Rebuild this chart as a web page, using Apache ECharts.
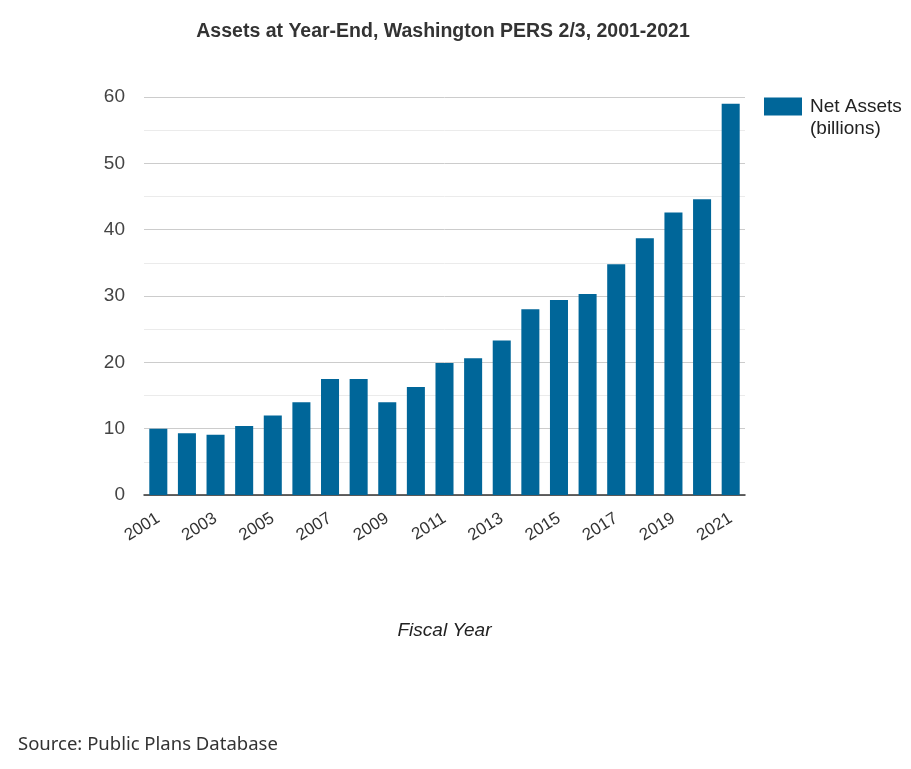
<!DOCTYPE html>
<html>
<head>
<meta charset="utf-8">
<script src="https://cdn.jsdelivr.net/npm/echarts@6/dist/echarts.min.js"></script>
<style>
html,body{margin:0;padding:0;background:#fff;}
#chart{width:911px;height:769px;}
</style>
</head>
<body>
<div id="chart"></div>
<script>
const years = ['2001','2002','2003','2004','2005','2006','2007','2008','2009','2010','2011','2012','2013','2014','2015','2016','2017','2018','2019','2020','2021'];
const netAssets = [10.0, 9.3, 9.1, 10.4, 12.0, 14.0, 17.5, 17.5, 14.0, 16.3, 19.9, 20.6, 23.3, 28.0, 29.4, 30.3, 34.8, 38.7, 42.6, 44.6, 59.0];
const yTicks = [0, 10, 20, 30, 40, 50, 60];

const chart = echarts.init(document.getElementById('chart'));
const font = 'Liberation Sans, Arial, sans-serif';
chart.setOption({
  animation: false,
  textStyle: {fontFamily: font},
  grid: {left: 144, right: 166, top: 97, bottom: 274, containLabel: false},
  legend: {
    left: 764, top: 97, orient: 'vertical', padding: 0,
    itemWidth: 38, itemHeight: 18, itemGap: 10,
    icon: 'rect',
    textStyle: {fontSize: 19, color: '#222', fontFamily: font, padding: [0, 0, 0, 3]},
    data: ['Net Assets']
  },
  graphic: [
    {type: 'text', left: 810, top: 119, style: {text: '(billions)', fontSize: 19, fill: '#222', fontFamily: font}},
    {type: 'text', x: 443, y: 32, style: {text: 'Assets at Year-End, Washington PERS 2/3, 2001-2021', fontSize: 19.5, fontWeight: 'bold', fill: '#333', textAlign: 'center', textVerticalAlign: 'middle', fontFamily: font}},
    {type: 'text', left: 18, top: 735, style: {text: 'Source: Public Plans Database', fontSize: 18.5, fill: '#333', fontFamily: 'Noto Sans, Open Sans, sans-serif'}}
  ],
  xAxis: {
    type: 'category',
    data: years,
    name: 'Fiscal Year',
    nameLocation: 'middle',
    nameGap: 126,
    nameTextStyle: {fontSize: 19, fontStyle: 'italic', color: '#222', fontFamily: font},
    axisLine: {lineStyle: {color: '#333', width: 1.5}},
    axisTick: {show: false},
    axisLabel: {interval: 1, rotate: 32, fontSize: 17, color: '#333', margin: 22, fontFamily: font}
  },
  yAxis: {
    type: 'value',
    min: 0, max: 60, interval: 10,
    axisLine: {show: false},
    axisTick: {show: false},
    axisLabel: {fontSize: 19, color: '#444', margin: 19, fontFamily: font,
      formatter: v => yTicks.includes(v) ? String(v) : ''},
    splitLine: {lineStyle: {color: '#cccccc', width: 1}},
    minorTick: {show: false, splitNumber: 2},
    minorSplitLine: {show: true, lineStyle: {color: '#ebebeb', width: 1}}
  },
  series: [{
    name: 'Net Assets',
    type: 'bar',
    data: netAssets,
    barCategoryGap: '37%',
    itemStyle: {color: '#006699'}
  }]
});
</script>
</body>
</html>
